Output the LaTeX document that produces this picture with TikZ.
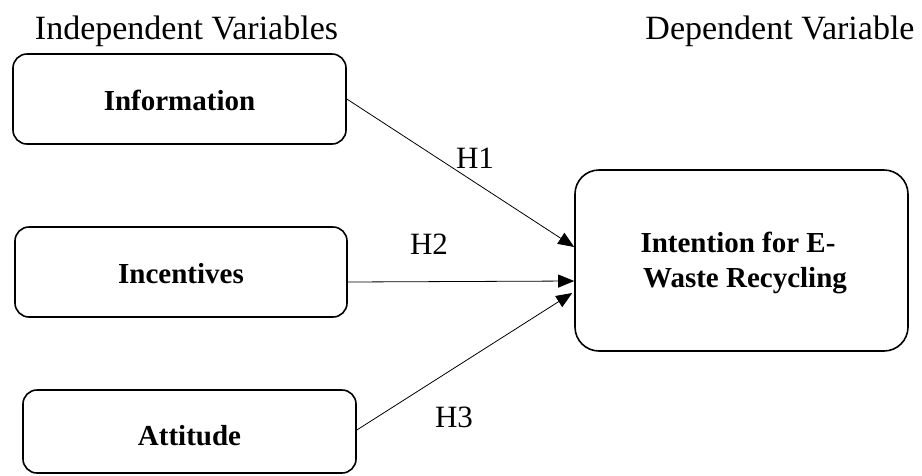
\documentclass[tikz,border=0pt]{standalone}
\usepackage{fontspec}
\setmainfont{Liberation Serif}
\usetikzlibrary{arrows.meta,calc}
\tikzset{
  ivbox/.style={draw, line width=1.6pt, rounded corners=14pt, inner sep=0pt,
    font=\fontsize{29}{35}\selectfont\bfseries, text height=22pt, text depth=0pt},
  dvbox/.style={draw, line width=1.6pt, rounded corners=24pt, inner sep=0pt},
  boxtext/.style={font=\fontsize{29}{35}\selectfont\bfseries, inner sep=0pt, anchor=base},
  header/.style={font=\fontsize{34}{40}\selectfont, inner sep=0pt, anchor=base},
  hlabel/.style={font=\fontsize{31}{36}\selectfont, inner sep=0pt, anchor=base},
  link/.style={line width=0.8pt, -{Triangle[length=16pt,width=13pt]}},
}
\begin{document}
\begin{tikzpicture}[x=1pt,y=-1pt]
\useasboundingbox (0,0) rectangle (922,475);
% headers
\node[header] (indep) at (186.5,39) {Independent Variables};
\node[header] (dep) at (780,39) {Dependent Variable};
% independent variable boxes
\node[ivbox, minimum width=333pt, minimum height=90pt] (info) at (179.5,99) {Information};
\node[ivbox, minimum width=332pt, minimum height=90pt] (inc) at (181,272) {Incentives};
\node[ivbox, minimum width=333pt, minimum height=83pt, text height=27pt] (att) at (189.5,431.5) {Attitude};
% dependent variable box
\node[dvbox, minimum width=333pt, minimum height=181pt] (intent) at (741.5,260.5) {};
\node[boxtext] (int1) at (738,252) {Intention for E-};
\node[boxtext] (int2) at (745,287) {Waste Recycling};
% connectors
\draw[link] (info.east) -- ($(intent.west)+(0,-13.5)$);
\draw[link] ($(inc.east)+(0,10)$) -- ($(intent.west)+(0,20.5)$);
\draw[link] ($(att.east)+(0,-1.5)$) -- ($(intent.west)+(-2,32.5)$);
% hypothesis labels
\node[hlabel] (h1) at (475,168) {H1};
\node[hlabel] (h2) at (429,254) {H2};
\node[hlabel] (h3) at (454,427) {H3};
\end{tikzpicture}
\end{document}
